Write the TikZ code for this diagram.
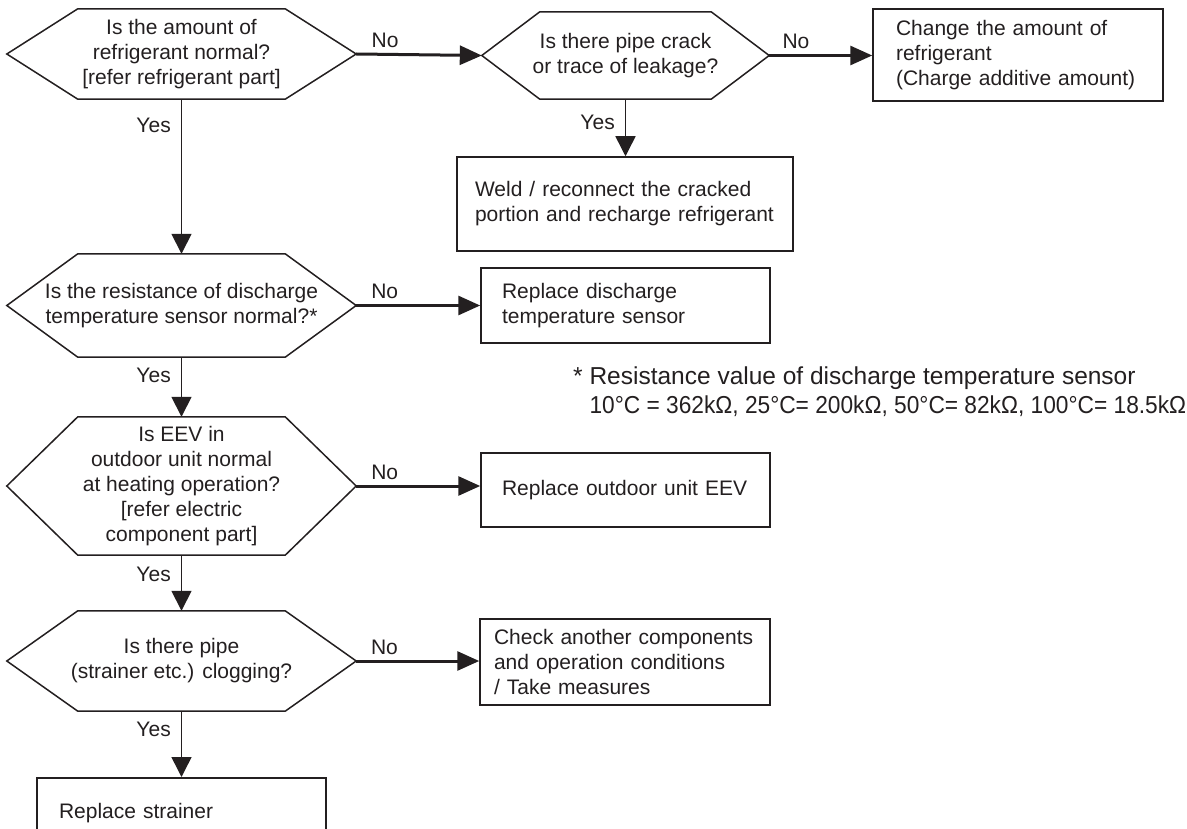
\documentclass[tikz,border=0pt]{standalone}
\usepackage{fontspec}
\setmainfont{Liberation Sans}
\usetikzlibrary{arrows.meta}
\usepackage{xcolor}
\definecolor{ink}{RGB}{35,31,32}

% hexagon drawn round a decision node, #2 = slant of the side points
\newcommand{\hexframe}[2]{%
  \draw[frame] (#1.west) -- ([xshift=#2]#1.north west) -- ([xshift=-#2]#1.north east)
    -- (#1.east) -- ([xshift=-#2]#1.south east) -- ([xshift=#2]#1.south west) -- cycle;}

\begin{document}
\begin{tikzpicture}[x=1pt, y=-1pt, ink, font=\fontsize{21}{25}\selectfont,
    frame/.style={line width=1.5pt},
    decision/.style={align=center, inner sep=0pt},
    action/.style={draw, line width=1.5pt, align=left, inner ysep=0pt},
    nobranch/.style={line width=3pt, -{Triangle[length=22pt,width=19pt]}},
    yesbranch/.style={line width=1.5pt, -{Triangle[length=20pt,width=20pt]}},
    lbl/.style={inner sep=2pt}]

        \useasboundingbox (0,0) rectangle (1187,829);
        \clip (0,0) rectangle (1187,829);

        % decisions
        \node[decision, minimum width=349pt, minimum height=90pt] (q1) at (181.5,54)
            {Is the amount of\\refrigerant normal?\\{}[refer refrigerant part]};
        \node[decision, minimum width=287pt, minimum height=87pt] (q2) at (625.5,55.5)
            {Is there pipe crack\\or trace of leakage?};
        \node[decision, minimum width=349pt, minimum height=103pt] (q3) at (181.5,305.5)
            {Is the resistance of discharge\\temperature sensor normal?*};
        \node[decision, minimum width=349pt, minimum height=138pt] (q4) at (181.5,486)
            {Is EEV in\\outdoor unit normal\\at heating operation?\\{}[refer electric\\component part]};
        \node[decision, minimum width=349pt, minimum height=100pt] (q5) at (181.5,661)
            {Is there pipe\\(strainer etc.) clogging?};
        \hexframe{q1}{71pt}
        \hexframe{q2}{58pt}
        \hexframe{q3}{71pt}
        \hexframe{q4}{71pt}
        \hexframe{q5}{71pt}

        % actions
        \node[action, text width=244pt, inner xsep=23pt, minimum height=92pt] (a1) at (1018,55)
            {Change the amount of\\refrigerant\\(Charge additive amount)};
        \node[action, text width=300pt, inner xsep=18pt, minimum height=94pt] (a2) at (625,204)
            {Weld / reconnect the cracked\\portion and recharge refrigerant};
        \node[action, text width=255pt, inner xsep=17pt, minimum height=75pt] (a3) at (625.5,305.5)
            {\hspace*{4pt}Replace discharge\\\hspace*{4pt}temperature sensor};
        \node[action, text width=255pt, inner xsep=17pt, minimum height=74pt] (a4) at (625.5,490)
            {\hspace*{4pt}Replace outdoor unit EEV};
        \node[action, text width=262pt, inner xsep=14pt, minimum height=86pt] (a5) at (625,662)
            {Check another components\\and operation conditions\\/ Take measures};
        \node[action, text width=245pt, inner xsep=22pt, minimum height=70pt, anchor=north] (a6) at (181.5,777)
            {Replace strainer};

        \node[align=left, inner sep=0pt, anchor=north west, font=\fontsize{24.5}{29}\selectfont] (note) at (573,367)
            {* Resistance value of discharge temperature sensor\\
             \hphantom{* }\scalebox{0.927}[1]{10°C = 362kΩ, 25°C= 200kΩ, 50°C= 82kΩ, 100°C= 18.5kΩ}};

        % No branches
        \draw[nobranch] (q1.east) -- (q2.west) node[lbl, pos=0.23, above=3pt] {No};
        \draw[nobranch] (q2.east) -- (q2.east -| a1.west) node[lbl, pos=0.26, above=3pt] {No};
        \draw[nobranch] (q3.east) -- (q3.east -| a3.west) node[lbl, pos=0.23, above=3pt] {No};
        \draw[nobranch] (q4.east) -- (q4.east -| a4.west) node[lbl, pos=0.23, above=3pt] {No};
        \draw[nobranch] (q5.east) -- (q5.east -| a5.west) node[lbl, pos=0.23, above=3pt] {No};

        % Yes branches
        \draw[yesbranch] (q2.south) -- (q2.south |- a2.north) node[lbl, pos=0.41, left=8pt] {Yes};
        \draw[yesbranch] (q1.south) -- (q3.north) node[lbl, pos=0.17, left=8pt] {Yes};
        \draw[yesbranch] (q3.south) -- (q4.north) node[lbl, pos=0.3, left=8pt] {Yes};
        \draw[yesbranch] (q4.south) -- (q5.north) node[lbl, pos=0.34, left=8pt] {Yes};
        \draw[yesbranch] (q5.south) -- (a6.north) node[lbl, pos=0.27, left=8pt] {Yes};

      \end{tikzpicture}
\end{document}
